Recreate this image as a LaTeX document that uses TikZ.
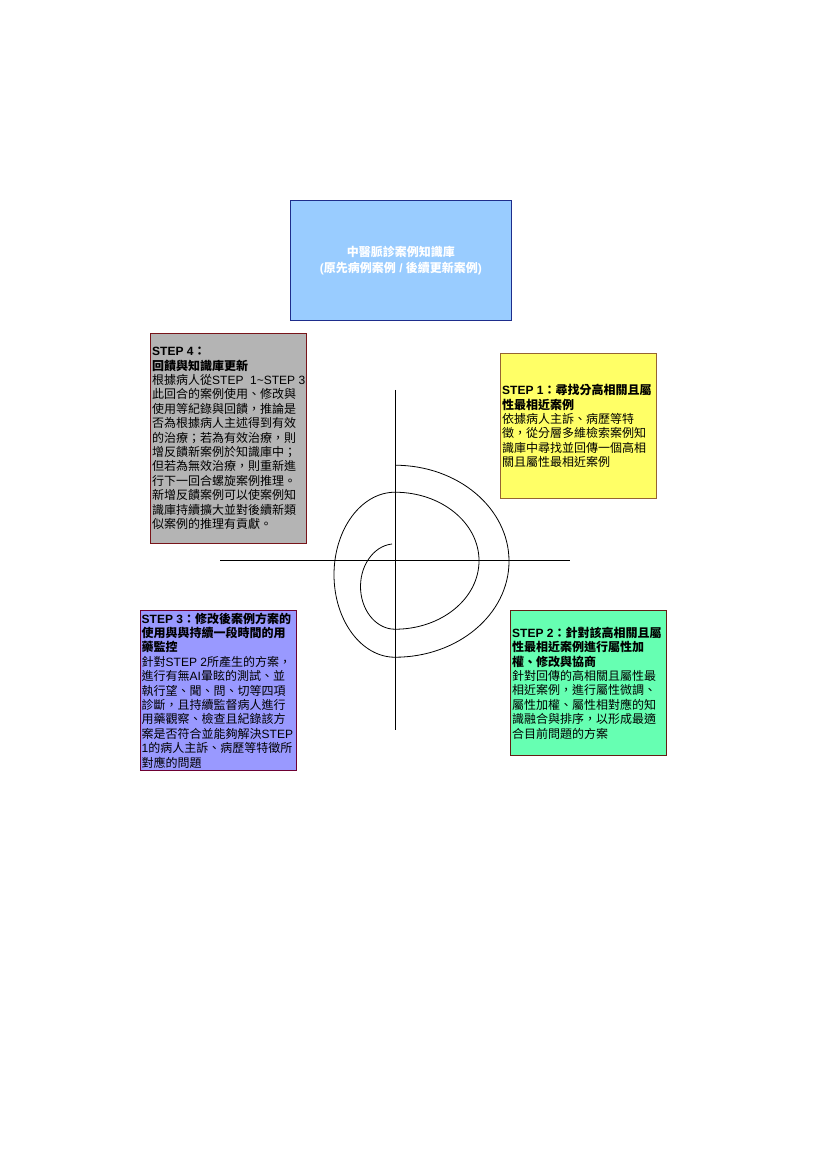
\documentclass[tikz,border=0pt]{standalone}
\usepackage{fontspec}
\setmainfont{Liberation Sans}
\newfontfamily\cjkfont{Noto Sans CJK TC}
\XeTeXinterchartokenstate=1
\newXeTeXintercharclass\CJKcls
\count255="3000
\loop
  \XeTeXcharclass\count255=\CJKcls
  \ifnum\count255<"9FFF \advance\count255 by 1 \repeat
\count255="FF00
\loop
  \XeTeXcharclass\count255=\CJKcls
  \ifnum\count255<"FFEF \advance\count255 by 1 \repeat
\XeTeXinterchartoks 0 \CJKcls = {\begingroup\cjkfont}
\XeTeXinterchartoks 4095 \CJKcls = {\begingroup\cjkfont}
\XeTeXinterchartoks \CJKcls 0 = {\endgroup}
\XeTeXinterchartoks \CJKcls 4095 = {\endgroup}
\definecolor{kbfill}{RGB}{153,204,255}
\definecolor{kbdraw}{RGB}{30,45,140}
\definecolor{sfourfill}{RGB}{180,180,180}
\definecolor{sfourdraw}{RGB}{120,20,25}
\definecolor{sonefill}{RGB}{255,255,102}
\definecolor{sonedraw}{RGB}{150,100,50}
\definecolor{sthreefill}{RGB}{153,153,255}
\definecolor{sthreedraw}{RGB}{110,0,50}
\definecolor{stwofill}{RGB}{102,255,178}
\definecolor{stwodraw}{RGB}{100,30,20}
\begin{document}
\begin{tikzpicture}[x=1pt,y=1pt,
  boxbase/.style={draw, line width=0.9pt, inner sep=0pt, anchor=north west, minimum width=156pt},
  txt/.style={anchor=west, inner sep=0pt, align=left, font=\fontsize{12}{14.4}\selectfont},
  axis/.style={line width=0.8pt, black},
  spiral/.style={line width=0.8pt, black}]
\useasboundingbox (0,0) rectangle (827,1169);
\fill[white] (0,0) rectangle (827,1169);

% knowledge base
\node[boxbase, fill=kbfill, draw=kbdraw, minimum width=221pt, minimum height=120pt] (kb) at (290,969) {};
\node[inner sep=0pt, align=center, text=white, font=\bfseries\fontsize{12}{15.5}\selectfont] (kbt) at (kb.center) {中醫脈診案例知識庫\\(原先病例案例 / 後續更新案例)};

% STEP 4
\node[boxbase, fill=sfourfill, draw=sfourdraw, minimum height=210pt] (s4) at (150,836) {};
\node[txt] (s4t) at ([xshift=2pt]s4.west) {\textbf{STEP 4：}\\
\textbf{回饋與知識庫更新}\\
根據病人從STEP\ \ 1\textasciitilde STEP 3\\
此回合的案例使用、修改與\\
使用等紀錄與回饋，推論是\\
否為根據病人主述得到有效\\
的治療；若為有效治療，則\\
增反饋新案例於知識庫中；\\
但若為無效治療，則重新進\\
行下一回合螺旋案例推理。\\
新增反饋案例可以使案例知\\
識庫持續擴大並對後續新類\\
似案例的推理有貢獻。};

% STEP 1
\node[boxbase, fill=sonefill, draw=sonedraw, minimum height=145pt] (s1) at (500,816) {};
\node[txt] (s1t) at ([xshift=2pt]s1.west) {\textbf{STEP 1：尋找分高相關且屬}\\
\textbf{性最相近案例}\\
依據病人主訴、病歷等特\\
徵，從分層多維檢索案例知\\
識庫中尋找並回傳一個高相\\
關且屬性最相近案例};

% STEP 3
\node[boxbase, fill=sthreefill, draw=sthreedraw, minimum height=160pt] (s3) at (140,559) {};
\node[txt] (s3t) at ([xshift=1.5pt]s3.west) {\textbf{STEP 3：修改後案例方案的}\\
\textbf{使用與與持續一段時間的用}\\
\textbf{藥監控}\\
針對STEP 2所產生的方案，\\
進行有無AI暈眩的測試、並\\
執行望、聞、問、切等四項\\
診斷，且持續監督病人進行\\
用藥觀察、檢查且紀錄該方\\
案是否符合並能夠解決STEP\\
1的病人主訴、病歷等特徵所\\
對應的問題};

% STEP 2
\node[boxbase, fill=stwofill, draw=stwodraw, minimum height=145pt] (s2) at (510,559) {};
\node[txt] (s2t) at ([xshift=2pt]s2.west) {\textbf{STEP 2：針對該高相關且屬}\\
\textbf{性最相近案例進行屬性加}\\
\textbf{權、修改與協商}\\
針對回傳的高相關且屬性最\\
相近案例，進行屬性微調、\\
屬性加權、屬性相對應的知\\
識融合與排序，以形成最適\\
合目前問題的方案};

% axes
\coordinate (hl) at (220,609);
\coordinate (hr) at (570,609);
\coordinate (vt) at (395,779);
\coordinate (vb) at (395,439);
\draw[axis] (hl) -- (hr);
\draw[axis] (vt) -- (vb);

% spiral
\coordinate (sp0) at (392.0,625.0);
\draw[spiral] (sp0)
  arc[start angle=95, end angle=270, x radius=34.5pt, y radius=42.7pt]
  arc[start angle=-90, end angle=90, x radius=84pt, y radius=68.5pt]
  arc[start angle=90, end angle=270, x radius=61pt, y radius=82.5pt]
  arc[start angle=-90, end angle=90, x radius=114pt, y radius=96pt];
\end{tikzpicture}
\end{document}
